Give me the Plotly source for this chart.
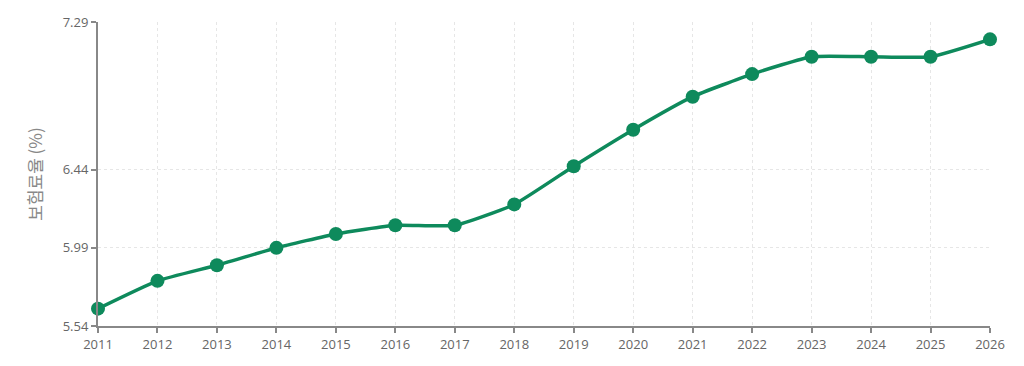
import plotly.graph_objects as go

years = [2011, 2012, 2013, 2014, 2015, 2016, 2017, 2018, 2019, 2020, 2021, 2022, 2023, 2024, 2025, 2026]
rates = [5.64, 5.80, 5.89, 5.99, 6.07, 6.12, 6.12, 6.24, 6.46, 6.67, 6.86, 6.99, 7.09, 7.09, 7.09, 7.19]
y_ticks = [5.54, 5.99, 6.44, 7.29]
y_title = "보험료율 (%)"

green = "#0e8a5c"

fig = go.Figure()
fig.add_trace(go.Scatter(
    x=years, y=rates, mode="lines+markers",
    line=dict(color=green, width=3.5, shape="spline", smoothing=0.45),
    marker=dict(color=green, size=14),
    showlegend=False,
    cliponaxis=False,
))

fig.update_layout(
    width=1024, height=366,
    margin=dict(l=90, r=42, t=14, b=48),
    paper_bgcolor="white", plot_bgcolor="white",
    font=dict(family="Open Sans, Noto Sans CJK KR, sans-serif", size=13, color="#666666"),
)
fig.update_xaxes(
    range=[2011, 2026], tickmode="array", tickvals=years, ticktext=[str(y) for y in years],
    showline=True, linecolor="#888888", linewidth=2,
    ticks="outside", ticklen=5, tickcolor="#888888", tickwidth=1.5,
    showgrid=True, gridcolor="#e6e6e6", griddash="dot", gridwidth=1,
    zeroline=False, automargin=False,
)
fig.update_yaxes(
    range=[5.54, 7.29], tickmode="array", tickvals=y_ticks, ticktext=[f"{v:.2f}" for v in y_ticks],
    showline=True, linecolor="#888888", linewidth=2,
    ticks="outside", ticklen=5, tickcolor="#888888", tickwidth=1.5,
    showgrid=True, gridcolor="#e6e6e6", griddash="dot", gridwidth=1,
    zeroline=False, automargin=False,
    title=dict(text=y_title, font=dict(family="Noto Sans CJK KR", size=17, color="#888888"), standoff=16),
)

fig.write_html("out.html")
